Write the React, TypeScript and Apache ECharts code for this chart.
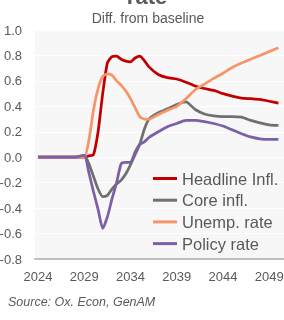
import React, { useEffect, useRef } from 'react';
import * as echarts from 'echarts';

const years = [
  2024, 2025, 2026, 2027, 2028, 2029, 2029.5, 2030, 2030.5, 2031, 2031.5, 2032, 2032.5,
  2033, 2033.5, 2034, 2034.5, 2035, 2035.5, 2036, 2037, 2038, 2039, 2040, 2041, 2042,
  2043, 2044, 2045, 2046, 2047, 2048, 2049, 2050,
];
const headline = [
  0, 0, 0, 0, 0, 0, 0.01, 0.02, 0.2, 0.5, 0.74, 0.79, 0.795,
  0.77, 0.755, 0.75, 0.78, 0.795, 0.76, 0.71, 0.65, 0.625, 0.615, 0.59, 0.56, 0.54,
  0.525, 0.5, 0.48, 0.465, 0.46, 0.455, 0.44, 0.425,
];
const core = [
  0, 0, 0, 0, 0, 0.015, -0.05, -0.15, -0.25, -0.31, -0.3, -0.25, -0.21,
  -0.18, -0.13, -0.06, 0.02, 0.1, 0.22, 0.3, 0.35, 0.38, 0.415, 0.435, 0.375, 0.34,
  0.325, 0.32, 0.32, 0.315, 0.29, 0.27, 0.255, 0.25,
];
const unemp = [
  0, 0, 0, 0, 0, 0, 0.13, 0.37, 0.54, 0.635, 0.655, 0.645, 0.6,
  0.565, 0.52, 0.46, 0.39, 0.32, 0.3, 0.3, 0.335, 0.37, 0.4, 0.46, 0.53, 0.575,
  0.62, 0.66, 0.705, 0.74, 0.77, 0.8, 0.83, 0.86,
];
const policy = [
  0, 0, 0, 0, 0, 0.015, -0.12, -0.27, -0.41, -0.56, -0.47, -0.33, -0.2,
  -0.05, -0.04, -0.04, 0.04, 0.1, 0.12, 0.155, 0.2, 0.24, 0.265, 0.29, 0.29, 0.28,
  0.265, 0.245, 0.215, 0.185, 0.16, 0.145, 0.14, 0.14,
];
const xTicks = [2024, 2029, 2034, 2039, 2044, 2049];
const seriesNames = ['Headline Infl.', 'Core infl.', 'Unemp. rate', 'Policy rate'];
const seriesColors = ['#C00000', '#707070', '#F79468', '#7D5FA8'];

export default function App() {
  const ref = useRef<HTMLDivElement>(null);
  useEffect(() => {
    const chart = echarts.init(ref.current!, null, { renderer: 'svg' });
    const font = "'Liberation Sans', Arial, sans-serif";
    const datasets = [headline, core, unemp, policy];
    const series = datasets.map((d, k) => ({
      name: seriesNames[k],
      type: 'line',
      data: years.map((y, i) => [y, d[i]]),
      showSymbol: false,
      symbol: 'none',
      smooth: 0.2,
      lineStyle: { color: seriesColors[k], width: 2.75 },
      itemStyle: { color: seriesColors[k] },
    }));
    chart.setOption({
      animation: false,
      textStyle: { fontFamily: font },
      grid: {
        left: 35, right: 0, top: 30, bottom: 61,
        containLabel: false,
        outerBoundsMode: 'none',
        show: true, backgroundColor: '#f7f7f7', borderWidth: 0,
      },
      xAxis: {
        type: 'value',
        min: 2023.68,
        max: 2050.6,
        axisLine: { onZero: false, lineStyle: { color: '#bfbfbf', width: 2 } },
        axisTick: { show: false },
        splitLine: { show: false },
        axisLabel: {
          customValues: xTicks,
          color: '#595959', fontSize: 13, margin: 11, fontFamily: font,
          formatter: (v: number) => String(Math.round(v)),
        },
      },
      yAxis: {
        type: 'value',
        min: -0.8,
        max: 1.0,
        interval: 0.2,
        axisLine: { show: false },
        axisTick: { show: false },
        splitLine: { lineStyle: { color: '#ffffff', width: 1 } },
        axisLabel: {
          color: '#595959', fontSize: 13, margin: 13, fontFamily: font,
          formatter: (v: number) => (Math.abs(v) < 1e-9 ? 0 : v).toFixed(1),
        },
      },
      legend: {
        orient: 'vertical', left: 153, top: 170, padding: 0,
        icon: 'rect',
        itemWidth: 24, itemHeight: 3, itemGap: 4.7,
        textStyle: { fontSize: 16.5, color: '#595959', lineHeight: 17, fontFamily: font },
        data: seriesNames,
      },
      graphic: [
        {
          type: 'text', x: 147, y: -3.6,
          style: { text: 'rate', font: `bold 22px ${font}`, fill: '#595959', align: 'center', verticalAlign: 'middle' },
        },
        {
          type: 'text', x: 148, y: 17.9,
          style: { text: 'Diff. from baseline', font: `14px ${font}`, fill: '#595959', align: 'center', verticalAlign: 'middle' },
        },
        {
          type: 'text', x: 8, y: 302,
          style: { text: 'Source: Ox. Econ, GenAM', font: `italic 12.5px ${font}`, fill: '#595959', align: 'left', verticalAlign: 'middle' },
        },
      ],
      series,
    });
    return () => chart.dispose();
  }, []);
  return <div ref={ref} style={{ position: 'fixed', left: 0, top: 0, width: 284, height: 320 }} />;
}
